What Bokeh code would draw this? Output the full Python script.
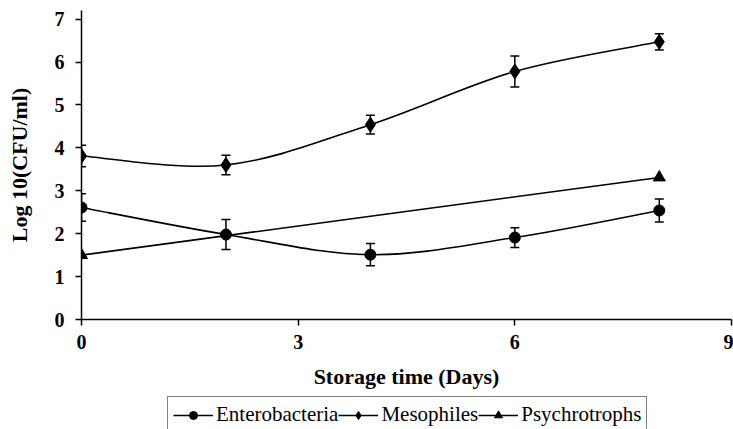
from bokeh.plotting import figure
from bokeh.layouts import column
from bokeh.models import (Legend, LegendItem, Whisker, ColumnDataSource,
                          FixedTicker, TeeHead, Range1d)
from bokeh.embed import file_html
from bokeh.resources import INLINE

# ---- data ----
days = [0, 2, 4, 6, 8]
entero = [2.61, 1.98, 1.51, 1.91, 2.54]
entero_err = [0.32, 0.35, 0.26, 0.23, 0.27]
meso = [3.81, 3.60, 4.54, 5.78, 6.47]
meso_err = [0.25, 0.23, 0.22, 0.36, 0.19]
psy_days = [0, 8]
psy = [1.50, 3.31]
x_ticks = [0, 3, 6, 9]
y_ticks = [0, 1, 2, 3, 4, 5, 6, 7]
names = ["Enterobacteria", "Mesophiles", "Psychrotrophs"]
markers = ["circle", "diamond", "triangle"]
marker_sizes = [11, 15, 12]


def smooth_source(xs, ys):
    """Bezier segments through the data points (spreadsheet-style smoothing)."""
    n = len(xs)
    d = dict(x0=[], y0=[], x1=[], y1=[], cx0=[], cy0=[], cx1=[], cy1=[])
    for i in range(n - 1):
        ip = i - 1 if i > 0 else i
        inx = i + 2 if i + 2 < n else i + 1
        d["x0"].append(xs[i]); d["y0"].append(ys[i])
        d["x1"].append(xs[i + 1]); d["y1"].append(ys[i + 1])
        d["cx0"].append(xs[i] + (xs[i + 1] - xs[ip]) / 6)
        d["cy0"].append(ys[i] + (ys[i + 1] - ys[ip]) / 6)
        d["cx1"].append(xs[i + 1] - (xs[inx] - xs[i]) / 6)
        d["cy1"].append(ys[i + 1] - (ys[inx] - ys[i]) / 6)
    return ColumnDataSource(d)


series = [(days, entero), (days, meso), (psy_days, psy)]

# ---------------- main chart ----------------
p = figure(width=733, height=394, output_backend="svg", toolbar_location=None,
           x_range=Range1d(0, 9), y_range=Range1d(0, 7.2),
           min_border_left=81, min_border_right=2, min_border_top=10,
           min_border_bottom=75)
p.outline_line_color = None
p.xgrid.grid_line_color = None
p.ygrid.grid_line_color = None

for ax in (p.xaxis[0], p.yaxis[0]):
    ax.axis_line_color = "black"
    ax.axis_line_width = 1.5
    ax.major_tick_line_color = "black"
    ax.major_tick_line_width = 1.5
    ax.major_tick_out = 6
    ax.major_tick_in = 0
    ax.minor_tick_line_color = None
    ax.major_label_text_font = "Liberation Serif"
    ax.major_label_text_font_style = "bold"
    ax.major_label_text_font_size = "20px"
    ax.major_label_text_color = "black"
    ax.axis_label_text_font = "Liberation Serif"
    ax.axis_label_text_font_style = "bold"
    ax.axis_label_text_font_size = "22px"
    ax.axis_label_text_color = "black"

p.xaxis.ticker = FixedTicker(ticks=x_ticks)
p.yaxis.ticker = FixedTicker(ticks=y_ticks)
p.xaxis.axis_label = "Storage time (Days)"
p.yaxis.axis_label = "Log 10(CFU/ml)"
p.xaxis.major_label_standoff = 9
p.xaxis.axis_label_standoff = 12
p.yaxis.major_label_standoff = 11
p.yaxis.axis_label_standoff = 20

# smooth lines
for xs, ys in series:
    p.bezier(x0="x0", y0="y0", x1="x1", y1="y1", cx0="cx0", cy0="cy0",
             cx1="cx1", cy1="cy1", source=smooth_source(xs, ys),
             line_color="black", line_width=1.6)

# error bars
for ys, es in ((entero, entero_err), (meso, meso_err)):
    src = ColumnDataSource(dict(x=days,
                                upper=[v + e for v, e in zip(ys, es)],
                                lower=[v - e for v, e in zip(ys, es)]))
    w = Whisker(base="x", upper="upper", lower="lower", source=src,
                line_color="black", line_width=1.5,
                upper_head=TeeHead(size=9, line_color="black", line_width=1.5),
                lower_head=TeeHead(size=9, line_color="black", line_width=1.5))
    p.add_layout(w)

# markers
for (xs, ys), mk, sz in zip(series, markers, marker_sizes):
    p.scatter(xs, ys, marker=mk, size=sz, color="black")

# ---------------- legend strip ----------------
lg = figure(width=733, height=35, output_backend="svg", toolbar_location=None,
            x_range=Range1d(100, 101), y_range=Range1d(100, 101),
            x_axis_location=None, y_axis_location=None,
            min_border_left=0, min_border_right=0, min_border_top=0,
            min_border_bottom=0)
lg.outline_line_color = None
lg.xgrid.grid_line_color = None
lg.ygrid.grid_line_color = None

items = []
for (xs, ys), mk, sz, nm in zip(series, markers, marker_sizes, names):
    # one-point renderers (outside this strip's ranges): used only as legend glyphs
    ln = lg.line(xs[:1], ys[:1], line_color="black", line_width=1.6)
    sc = lg.scatter(xs[:1], ys[:1], marker=mk, size=sz, color="black")
    items.append(LegendItem(label=nm, renderers=[ln, sc]))

legend = Legend(items=items, orientation="horizontal", location=(86, -4),
                border_line_color="black", border_line_width=1.5,
                background_fill_color="white", background_fill_alpha=1.0,
                padding=5, spacing=0, margin=0, label_standoff=3,
                glyph_width=40, glyph_height=20,
                label_text_font="Liberation Serif", label_text_font_size="21px",
                label_text_color="black")
lg.add_layout(legend, "center")

layout = column(p, lg, spacing=0)
open("out.html", "w").write(file_html(layout, INLINE))
